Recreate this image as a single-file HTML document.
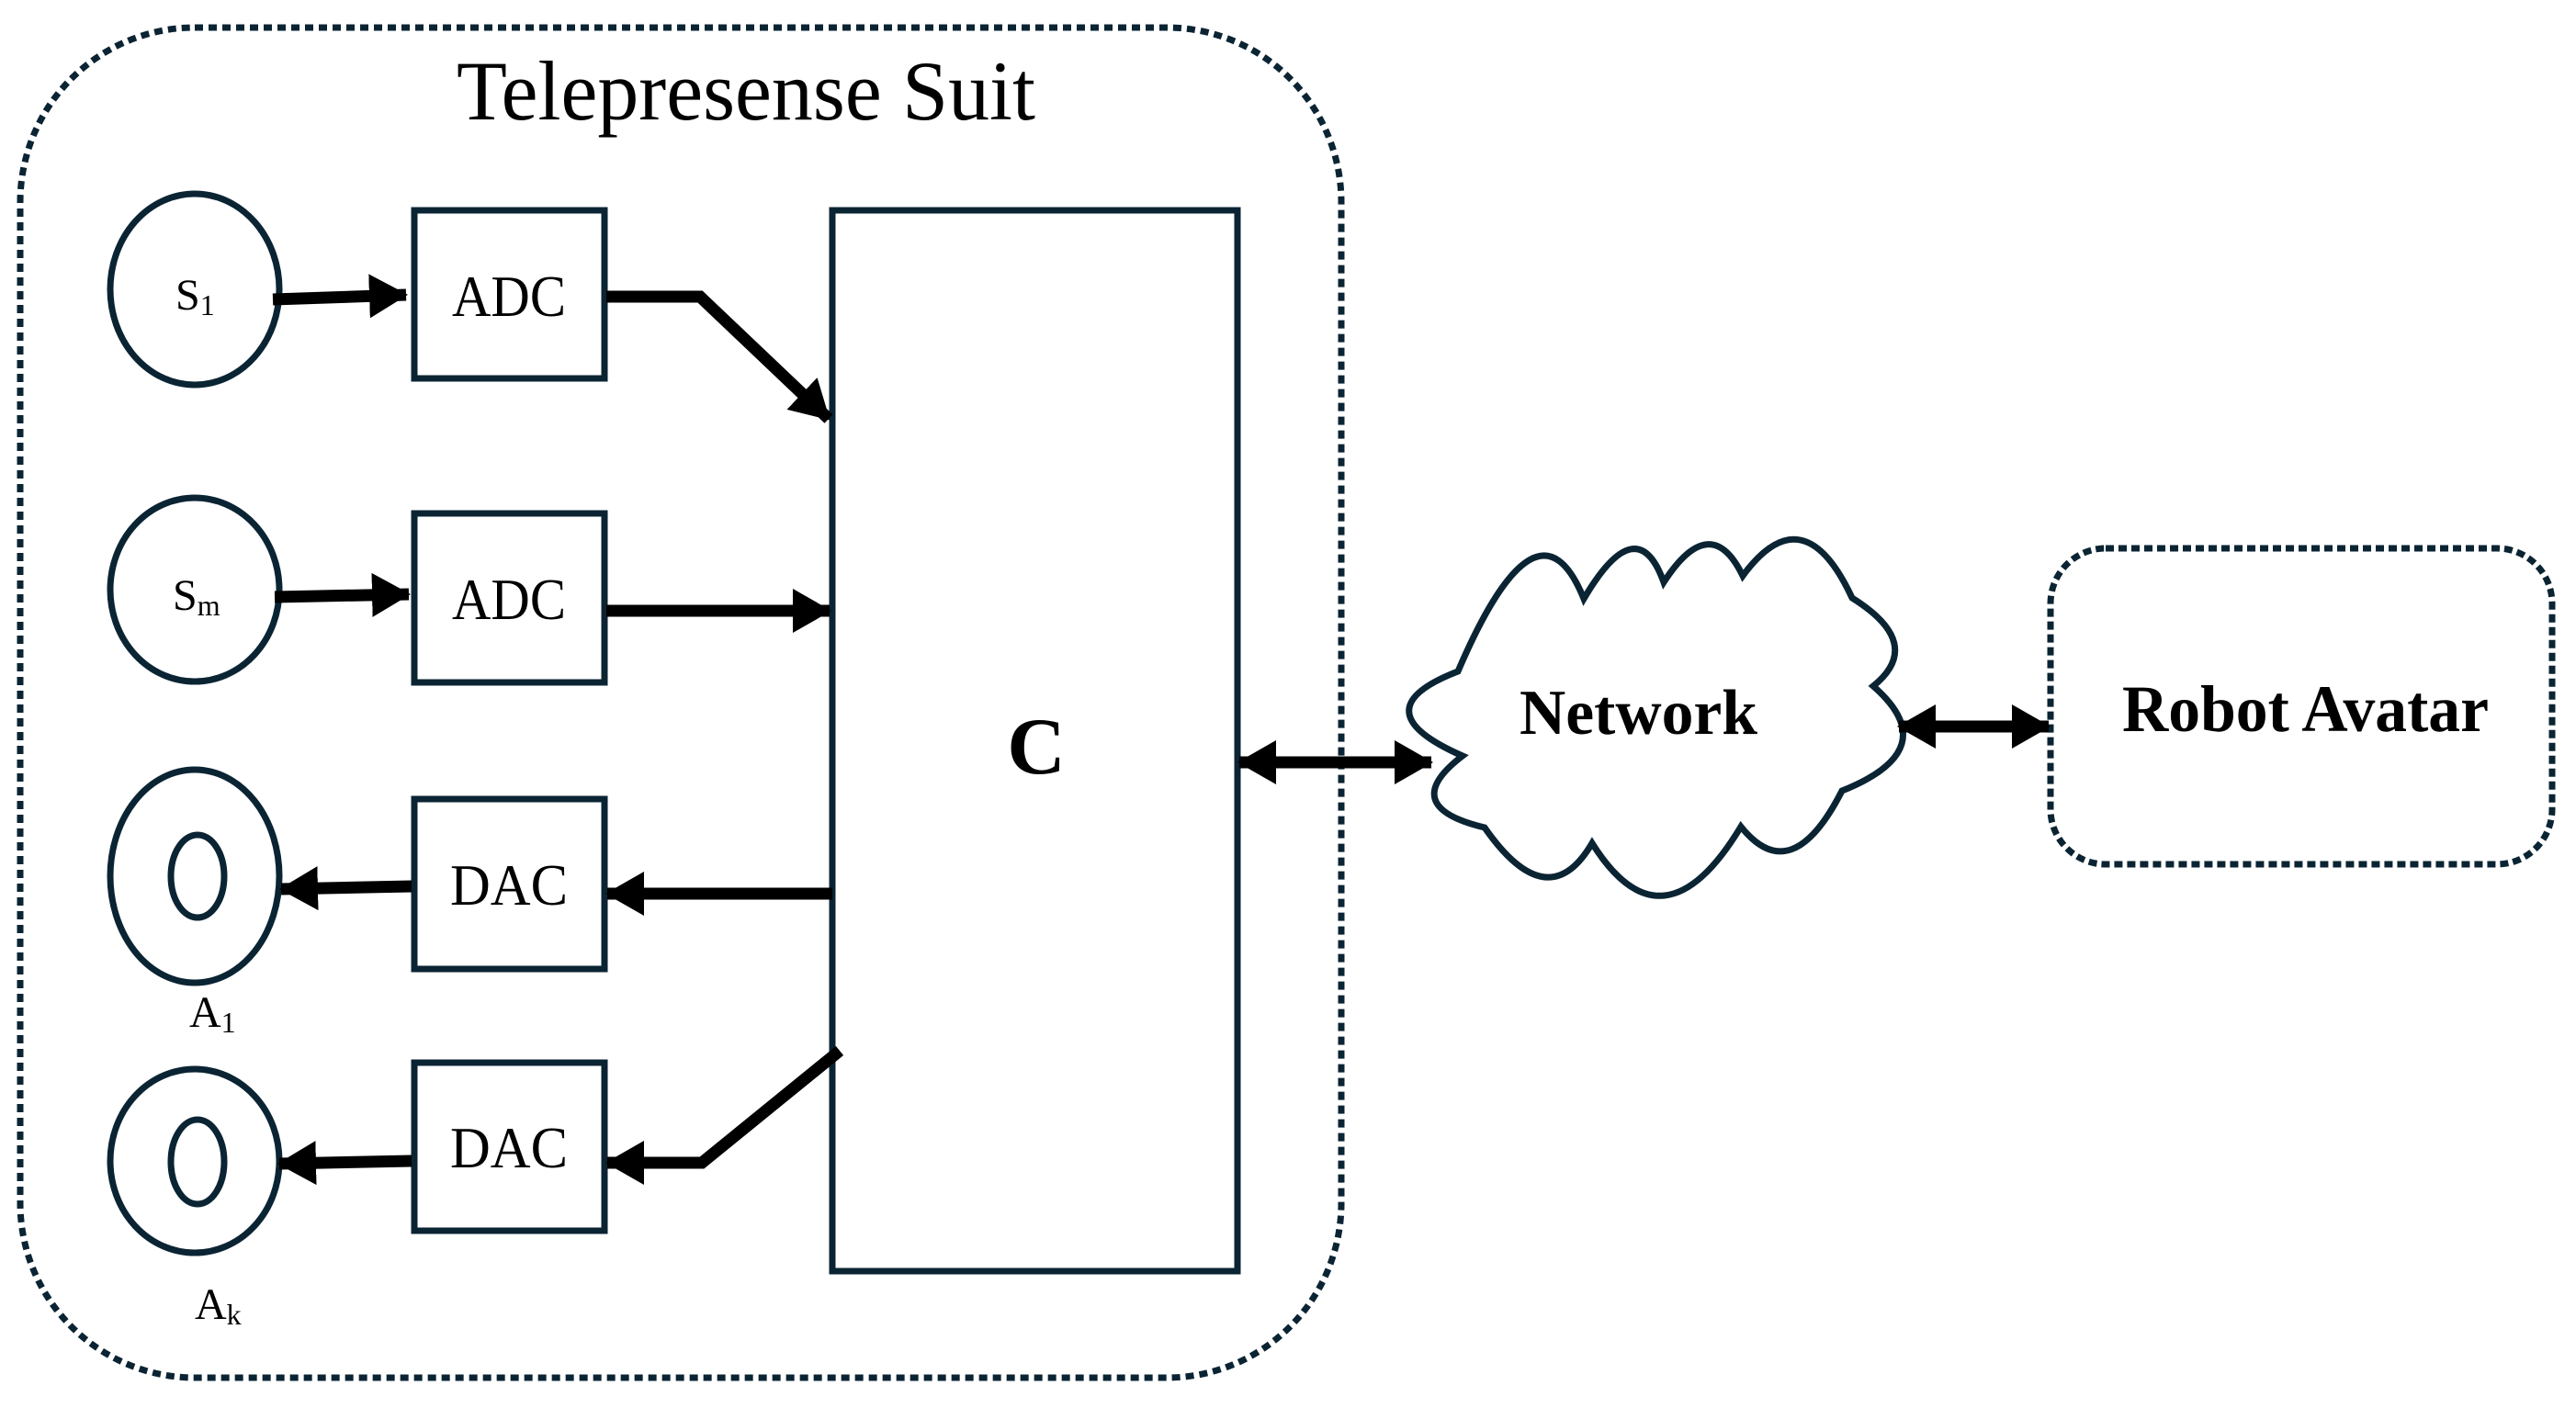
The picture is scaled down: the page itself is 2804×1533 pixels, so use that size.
<!DOCTYPE html>
<html><head><meta charset="utf-8"><style>html,body{margin:0;padding:0;background:#fff}svg{display:block}</style></head>
<body>
<svg width="2804" height="1533" viewBox="0 0 2804 1533" xmlns="http://www.w3.org/2000/svg" font-family="Liberation Serif, serif">
<defs>
<marker id="ah" markerUnits="userSpaceOnUse" markerWidth="42" markerHeight="48" refX="40" refY="24" orient="auto">
<path d="M0,0 L42,24 L0,48 Z" fill="#000"/></marker>
<marker id="as" markerUnits="userSpaceOnUse" markerWidth="42" markerHeight="48" refX="2" refY="24" orient="auto">
<path d="M42,0 L0,24 L42,48 Z" fill="#000"/></marker>
</defs>
<g fill="none" stroke="#0b2433" stroke-width="7">
<rect x="22" y="30" width="1438" height="1470" rx="190" stroke-dasharray="9 6"/>
<rect x="2232" y="597" width="546" height="344" rx="60" stroke-dasharray="9 5"/>
<ellipse cx="212" cy="315" rx="92" ry="104"/>
<ellipse cx="212" cy="642" rx="92" ry="100"/>
<ellipse cx="212" cy="954" rx="92" ry="116"/>
<ellipse cx="215" cy="954" rx="29" ry="45"/>
<ellipse cx="212" cy="1264" rx="92" ry="100"/>
<ellipse cx="215" cy="1265" rx="29" ry="46"/>
<rect x="451" y="229" width="207" height="183"/>
<rect x="451" y="559" width="207" height="184"/>
<rect x="451" y="870" width="207" height="185"/>
<rect x="451" y="1157" width="207" height="183"/>
<rect x="906" y="229" width="441" height="1155"/>
<path d="M1587,731 Q1674,528 1724,652 Q1782,553 1811,634 Q1862,555 1897,627 Q1963,537 2016,651 Q2096,701 2039,747 Q2118,816 2005,861 Q1950,969 1895,900 Q1810,1041 1733,918 Q1685,1000 1616,901 Q1520,878 1592,823 Q1478,773 1587,731 Z" stroke-width="7"/>
</g>
<g stroke="#000" stroke-width="13" fill="none">
<line x1="297" y1="326" x2="442" y2="321" marker-end="url(#ah)"/>
<polyline points="660,323 762,323 902,456" marker-end="url(#ah)"/>
<line x1="299" y1="650" x2="445" y2="647" marker-end="url(#ah)"/>
<line x1="660" y1="665" x2="903" y2="665" marker-end="url(#ah)"/>
<line x1="906" y1="973" x2="661" y2="973" marker-end="url(#ah)"/>
<line x1="448" y1="965" x2="306" y2="968" marker-end="url(#ah)"/>
<polyline points="914,1144 764,1266 661,1266" marker-end="url(#ah)"/>
<line x1="448" y1="1264" x2="304" y2="1267" marker-end="url(#ah)"/>
<line x1="1349" y1="830" x2="1558" y2="830" marker-start="url(#as)" marker-end="url(#ah)"/>
<line x1="2067" y1="791" x2="2230" y2="791" marker-start="url(#as)" marker-end="url(#ah)"/>
</g>
<g fill="#000">
<text x="497" y="130" font-size="92" textLength="630" lengthAdjust="spacingAndGlyphs">Telepresense Suit</text>
<text x="492" y="344" font-size="64" textLength="124" lengthAdjust="spacingAndGlyphs">ADC</text>
<text x="492" y="674" font-size="64" textLength="124" lengthAdjust="spacingAndGlyphs">ADC</text>
<text x="490" y="985" font-size="64" textLength="128" lengthAdjust="spacingAndGlyphs">DAC</text>
<text x="490" y="1271" font-size="64" textLength="128" lengthAdjust="spacingAndGlyphs">DAC</text>
<text x="191" y="337" font-size="48">S<tspan font-size="32" dy="6">1</tspan></text>
<text x="188" y="664" font-size="48">S<tspan font-size="32" dy="6">m</tspan></text>
<text x="206" y="1118" font-size="48">A<tspan font-size="32" dy="6">1</tspan></text>
<text x="212" y="1436" font-size="48">A<tspan font-size="32" dy="6">k</tspan></text>
<text x="1128" y="842" font-size="88" font-weight="bold" text-anchor="middle">C</text>
<text x="1654" y="799" font-size="70" font-weight="bold" textLength="259" lengthAdjust="spacingAndGlyphs">Network</text>
<text x="2310" y="796" font-size="72" font-weight="bold" textLength="399" lengthAdjust="spacingAndGlyphs">Robot Avatar</text>
</g>
</svg>
</body></html>
